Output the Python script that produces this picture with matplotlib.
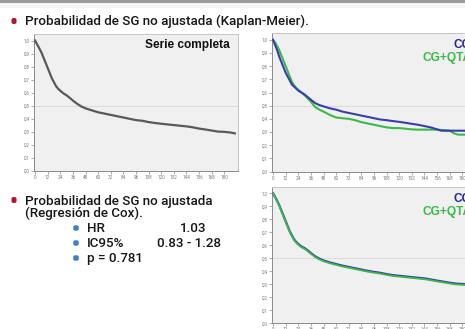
import matplotlib
matplotlib.use("Agg")
import matplotlib.pyplot as plt
from matplotlib.patches import FancyBboxPatch, Rectangle
from matplotlib.ticker import FuncFormatter

# datos (meses, probabilidad de supervivencia)
t_total = [0, 2, 4, 6, 8, 10, 12, 14, 16, 18, 20, 22, 24, 27, 30, 33, 36, 40, 44, 48,
           54, 60, 66, 72, 78, 84, 90, 96, 102, 108, 114, 120, 126, 132, 138, 144,
           150, 156, 162, 168, 174, 180, 186, 190]
s_total = [1.0, 0.97, 0.94, 0.91, 0.87, 0.83, 0.79, 0.75, 0.71, 0.68, 0.65, 0.63, 0.615,
           0.595, 0.58, 0.56, 0.54, 0.515, 0.495, 0.48, 0.465, 0.45, 0.44, 0.43, 0.42,
           0.41, 0.40, 0.39, 0.385, 0.375, 0.368, 0.362, 0.357, 0.352, 0.347, 0.342,
           0.335, 0.325, 0.318, 0.31, 0.302, 0.30, 0.295, 0.288]

t_cg = [0, 2, 4, 6, 8, 10, 12, 14, 16, 18, 20, 22, 24, 27, 30, 33, 36, 40, 44, 48, 54,
        60, 66, 72, 78, 84, 90, 96, 102, 108, 114, 120, 126, 132, 138, 144, 150, 156,
        160, 168, 180, 190]
s_cg = [1.0, 0.96, 0.92, 0.87, 0.83, 0.79, 0.75, 0.72, 0.69, 0.66, 0.645, 0.63, 0.615,
        0.6, 0.585, 0.565, 0.545, 0.52, 0.505, 0.495, 0.48, 0.47, 0.455, 0.445, 0.435,
        0.425, 0.415, 0.405, 0.395, 0.39, 0.383, 0.377, 0.37, 0.362, 0.355, 0.345,
        0.335, 0.32, 0.31, 0.31, 0.31, 0.31]

t_qta = [0, 2, 4, 6, 8, 10, 12, 14, 16, 18, 20, 22, 24, 27, 30, 33, 36, 40, 44, 48, 54,
         60, 66, 72, 78, 84, 90, 96, 102, 108, 114, 120, 126, 132, 138, 144, 150, 156,
         162, 168, 172, 176, 190]
s_qta = [1.0, 0.98, 0.95, 0.92, 0.88, 0.84, 0.80, 0.76, 0.72, 0.68, 0.655, 0.635, 0.62,
         0.60, 0.58, 0.555, 0.53, 0.49, 0.47, 0.455, 0.43, 0.41, 0.405, 0.40, 0.39,
         0.375, 0.365, 0.355, 0.345, 0.335, 0.33, 0.33, 0.325, 0.32, 0.318, 0.318,
         0.318, 0.318, 0.315, 0.31, 0.29, 0.28, 0.28]

# modelo de Cox (curvas ajustadas)
t_cox = [0, 2, 4, 6, 8, 10, 12, 14, 16, 18, 20, 22, 24, 27, 30, 33, 36, 40, 44, 48, 54,
         60, 66, 72, 78, 84, 90, 96, 102, 108, 114, 120, 126, 132, 138, 144, 150, 156,
         162, 168, 174, 180, 186, 190]
s_cox_cg = [1.0, 0.97, 0.94, 0.905, 0.865, 0.825, 0.785, 0.745, 0.705, 0.675, 0.645,
            0.625, 0.61, 0.59, 0.578, 0.56, 0.54, 0.515, 0.497, 0.483, 0.468, 0.455,
            0.443, 0.433, 0.423, 0.413, 0.403, 0.395, 0.388, 0.378, 0.37, 0.365, 0.36,
            0.355, 0.35, 0.345, 0.337, 0.328, 0.32, 0.312, 0.305, 0.302, 0.298, 0.295]
s_cox_qta = [1.0, 0.968, 0.937, 0.901, 0.86, 0.82, 0.779, 0.739, 0.699, 0.669, 0.639,
             0.619, 0.604, 0.584, 0.572, 0.554, 0.534, 0.509, 0.491, 0.477, 0.462,
             0.449, 0.437, 0.427, 0.417, 0.407, 0.397, 0.389, 0.382, 0.372, 0.364,
             0.359, 0.354, 0.349, 0.344, 0.339, 0.331, 0.322, 0.314, 0.306, 0.299,
             0.296, 0.292, 0.289]

xticks = list(range(0, 181, 12))
yticks = [0.0, 0.1, 0.2, 0.3, 0.4, 0.5, 0.6, 0.7, 0.8, 0.9, 1.0]

cox_items = ["HR", "IC95%", "p = 0.781"]
cox_vals = ["1.03", "0.83 - 1.28", ""]
cox_val_x = [180, 157, 0]

W, H = 465, 329
GRIS = "#595959"
AZUL = "#3a3ea6"
AZUL_TXT = "#26289a"
VERDE = "#3cb84a"
ROJO = "#b5122e"
BALA = "#3f7fc8"

plt.rcParams['font.family'] = ['Roboto', 'DejaVu Sans']

fig = plt.figure(figsize=(W / 100, H / 100), dpi=100)
fig.patch.set_facecolor("white")


def fx(x):
    return x / W


def fy(y):
    return 1 - y / H


# barra gris superior
fig.add_artist(Rectangle((0, fy(2.6)), 1, 2.6 / H, transform=fig.transFigure,
                         color="#9c9c9c", lw=0))
fig.add_artist(Rectangle((0, fy(8)), 1, 5.4 / H, transform=fig.transFigure,
                         color="#f5f5f5", lw=0))


def bala(x, y, w, h, color):
    p = FancyBboxPatch((fx(x - w / 2), fy(y + h / 2)), w / W, h / H,
                       boxstyle="round,pad=0,rounding_size=0.005",
                       transform=fig.transFigure, color=color, lw=0)
    fig.add_artist(p)


def panel(x0, ytop, ybot, width=204):
    ax = fig.add_axes([fx(x0), fy(ybot), width / W, (ybot - ytop) / H])
    ax.set_facecolor("#f0f0f0")
    ax.set_xlim(-1, 193)
    ax.set_ylim(0, 1.05)
    ax.set_xticks(xticks)
    ax.set_yticks(yticks)
    ax.yaxis.set_major_formatter(FuncFormatter(lambda v, p: ("%.1f" % v).replace(".", ",")))
    ax.tick_params(length=2, width=0.5, color="#888888", labelsize=3.3,
                   labelcolor="#7a7a7a", pad=1)
    ax.axhline(0.5, color="#d6d6d6", lw=0.6, zorder=1)
    for s in ["left", "bottom"]:
        ax.spines[s].set_color("#8a8a8a")
        ax.spines[s].set_linewidth(0.7)
    for s in ["top", "right"]:
        ax.spines[s].set_color("#c4c4c4")
        ax.spines[s].set_linewidth(0.7)
    return ax


def etiquetas(ax, y1, y2):
    ax.text(188.5, y1, "CG", ha="right", va="baseline", fontsize=8.6,
            fontweight="bold", color=AZUL_TXT, family="Liberation Sans", clip_on=False)
    ax.text(188.5, y2, "CG+QTA", ha="right", va="baseline", fontsize=8.6,
            fontweight="bold", color=VERDE, family="Liberation Sans", clip_on=False)


# panel 1: serie completa
ax1 = panel(34, 34, 171)
ax1.plot(t_total, s_total, color=GRIS, lw=1.6, solid_joinstyle="round", zorder=3)
ax1.text(0.96, 0.90, "Serie completa", transform=ax1.transAxes, ha="right",
         va="baseline", fontsize=8.6, fontweight="bold", color="#111111",
         family="Liberation Sans")

# panel 2: KM por grupo
ax2 = panel(272, 33.3, 171.5)
ax2.plot(t_qta, s_qta, color=VERDE, lw=1.5, zorder=3)
ax2.plot(t_cg, s_cg, color=AZUL, lw=1.5, zorder=4)
etiquetas(ax2, 0.935, 0.84)

# panel 3: Cox
ax3 = panel(272, 186.7, 323.3)
ax3.plot(t_cox, s_cox_cg, color=AZUL, lw=1.6, zorder=3)
ax3.plot(t_cox, s_cox_qta, color=VERDE, lw=1.3, zorder=4)
etiquetas(ax3, 0.935, 0.835)

# textos de la diapositiva
TXT = dict(fontsize=9.6, color="#161616", va="baseline", fontweight="medium")
bala(14, 21, 5, 6, ROJO)
fig.text(fx(25), fy(25.5), "Probabilidad de SG no ajustada (Kaplan-Meier).", **TXT)

bala(14, 200, 5, 6, ROJO)
fig.text(fx(25), fy(204.5), "Probabilidad de SG no ajustada", **TXT)
fig.text(fx(25), fy(217.5), "(Regresión de Cox).", **TXT)

for i, (nom, val, xv) in enumerate(zip(cox_items, cox_vals, cox_val_x)):
    yb = 232 + i * 15
    bala(76, yb - 4, 5.5, 5.5, BALA)
    fig.text(fx(87), fy(yb), nom, **TXT)
    if val:
        fig.text(fx(xv), fy(yb), val, **TXT)

fig.savefig("out.png", dpi=100)
